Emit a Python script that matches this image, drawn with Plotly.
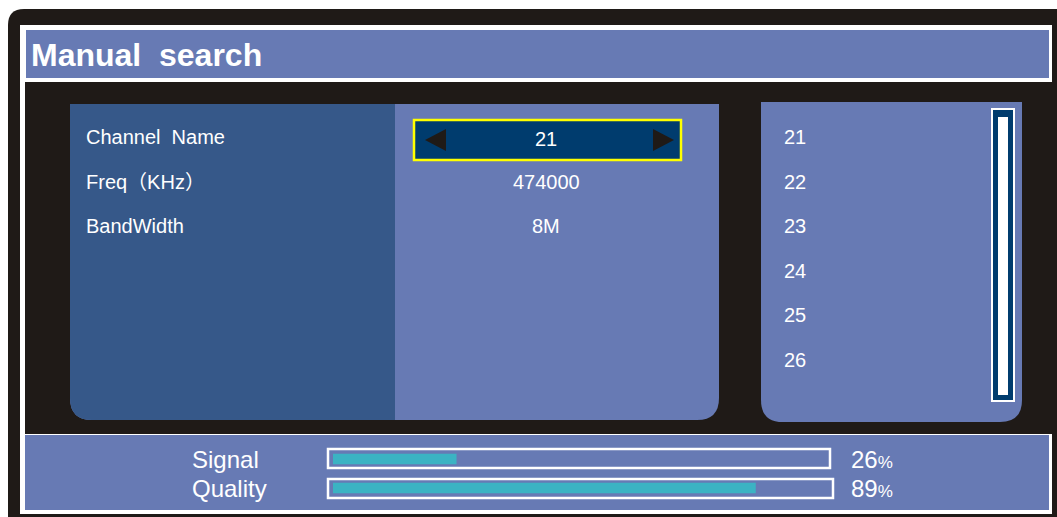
import plotly.graph_objects as go

# ---- data ----
title_text = "Manual\u00a0 search"
menu_labels = ["Channel\u00a0 Name", "Freq（KHz）", "BandWidth"]
menu_values = ["21", "474000", "8M"]
channel_list = ["21", "22", "23", "24", "25", "26"]
meter_labels = ["Signal", "Quality"]
meter_values = [26, 89]

# ---- styles ----
BLACK = "#1F1A17"
LIGHT = "#677AB4"
DARK = "#365889"
NAVY = "#003C6E"
CYAN = "#3BB3C3"
WHITE = "#FFFFFF"
YELLOW = "#FFFF00"
FONT = "Liberation Sans, Arial, Noto Sans CJK SC, sans-serif"

W, H = 1057, 517

fig = go.Figure()
shapes = []


def rect(x0, y0, x1, y1, fill, line=None, lw=0):
    shapes.append(dict(type="rect", xref="x", yref="y", x0=x0, y0=y0, x1=x1, y1=y1,
                       fillcolor=fill, line=dict(color=line or fill, width=lw),
                       layer="below"))


def path(d, fill, line=None, lw=0):
    shapes.append(dict(type="path", xref="x", yref="y", path=d, fillcolor=fill,
                       line=dict(color=line or fill, width=lw), layer="below"))


def rounded_bottom(x0, y0, x1, y1, r):
    return (f"M {x0},{y0} L {x1},{y0} L {x1},{y1 - r} Q {x1},{y1} {x1 - r},{y1} "
            f"L {x0 + r},{y1} Q {x0},{y1} {x0},{y1 - r} Z")


# outer black frame with rounded top-left corner
r = 16
path(f"M 8,{9 + r} Q 8,9 {8 + r},9 L 1070,9 L 1070,530 L 8,530 Z", BLACK)
# white frame
rect(20, 25, 1052, 514, WHITE)
# header
rect(26, 30, 1049, 78, LIGHT)
# content black
rect(25, 82, 1052, 434, BLACK)
# bottom panel
rect(25, 435, 1049, 510, LIGHT)

# left menu panel (dark left half + light right half, rounded bottom)
path(rounded_bottom(70, 104, 719, 420, 22), LIGHT)
path(f"M 70,104 L 395,104 L 395,420 L 92,420 Q 70,420 70,398 Z", DARK)
# channel list panel
path(rounded_bottom(761, 102, 1022, 422, 22), LIGHT)

# scrollbar
rect(992, 109, 1014, 401, NAVY, WHITE, 2)
rect(998, 117, 1008, 395, WHITE)

# channel selector box
rect(414, 120, 681, 160, NAVY, YELLOW, 2.5)
path("M 425,140 L 446,129 L 446,151 Z", BLACK)
path("M 674,140 L 653,129 L 653,151 Z", BLACK)

# meter tracks
rect(328, 449, 830, 468, LIGHT, WHITE, 2.5)
rect(328, 479, 833, 498, LIGHT, WHITE, 2.5)

annotations = []


def text(x, y, s, size, anchor="left", bold=False):
    annotations.append(dict(x=x, y=y, xref="x", yref="y", text=f"<b>{s}</b>" if bold else s,
                            showarrow=False, xanchor=anchor, yanchor="middle",
                            font=dict(family=FONT, size=size, color=WHITE)))


text(29, 55, title_text, 32, bold=True)

menu_y = [137, 182, 226]
for lab, val, y in zip(menu_labels, menu_values, menu_y):
    text(84, y, lab, 20)
    text(546, y + 2 if lab == menu_labels[0] else y, val, 20, anchor="center")

list_y = [137, 182, 226, 271, 315, 360]
for ch, y in zip(channel_list, list_y):
    text(782, y, ch, 20)

meter_y = [459, 488]
for lab, v, y in zip(meter_labels, meter_values, meter_y):
    text(190, y, lab, 24)
    text(849, y, f"{v}<span style='font-size:17px'>%</span>", 24)

# meter bars drawn through their own axes
fig.add_trace(go.Bar(
    x=meter_values, y=meter_labels, orientation="h", width=0.36,
    marker=dict(color=CYAN, line=dict(width=0)),
    xaxis="x2", yaxis="y2", hoverinfo="skip", showlegend=False,
))

fig.update_layout(
    width=W, height=H,
    margin=dict(l=0, r=0, t=0, b=0, pad=0),
    paper_bgcolor=WHITE, plot_bgcolor="rgba(0,0,0,0)",
    xaxis=dict(range=[0, W], visible=False, fixedrange=True, domain=[0, 1]),
    yaxis=dict(range=[H, 0], visible=False, fixedrange=True, domain=[0, 1]),
    xaxis2=dict(range=[0, 100], domain=[333 / W, 808 / W], anchor="y2",
                visible=False, fixedrange=True),
    yaxis2=dict(domain=[1 - 502.5 / H, 1 - 444.5 / H], anchor="x2",
                categoryorder="array", categoryarray=meter_labels,
                range=[1.5, -0.5], visible=False, fixedrange=True),
    shapes=shapes,
    annotations=annotations,
    showlegend=False,
)

fig.write_html(
    "out.html",
    config={"displayModeBar": False},
    post_script="document.body.style.margin='0';document.body.style.padding='0';"
                "document.documentElement.style.overflow='hidden';",
)
